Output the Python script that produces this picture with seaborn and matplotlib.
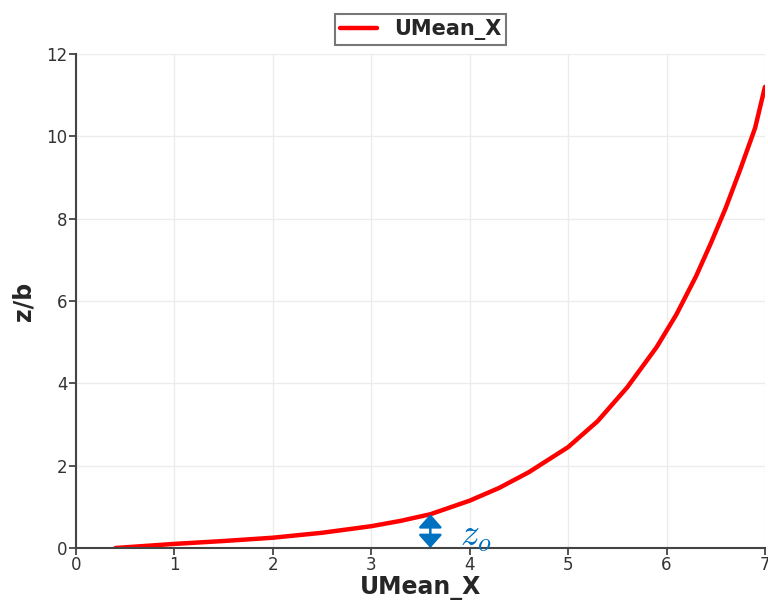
import pandas as pd
import matplotlib.pyplot as plt
import seaborn as sns

# velocity profile
umean_x = [0.4, 0.7, 1.0, 1.5, 2.0, 2.5, 3.0, 3.3, 3.6, 4.0, 4.3, 4.6, 5.0, 5.3, 5.6, 5.9,
           6.1, 6.3, 6.45, 6.6, 6.75, 6.9, 7.0]
z_over_b = [0.0, 0.05, 0.1, 0.17, 0.25, 0.37, 0.53, 0.66, 0.82, 1.15, 1.46, 1.84, 2.45, 3.08,
            3.9, 4.88, 5.67, 6.6, 7.4, 8.25, 9.2, 10.2, 11.2]
x_ticks = [0, 1, 2, 3, 4, 5, 6, 7]
y_ticks = [0, 2, 4, 6, 8, 10, 12]
z0_u = 3.6
z0_top = 0.82

df = pd.DataFrame({"UMean_X": umean_x, "z/b": z_over_b})

sns.set_style("white")
plt.rcParams['font.family'] = ['DejaVu Sans']
plt.rcParams['mathtext.fontset'] = 'cm'

fig = plt.figure(figsize=(7.68, 6.04), dpi=100)
ax = fig.add_axes([0.099, 0.0927, 0.897, 0.818])

sns.lineplot(data=df, x="UMean_X", y="z/b", color="red", linewidth=3.2,
             label="UMean_X", ax=ax, sort=False)

ax.set_xlim(0, 7)
ax.set_ylim(0, 12)
ax.set_xticks(x_ticks)
ax.set_yticks(y_ticks)
ax.grid(True, color="#ececec", linewidth=1)
ax.set_axisbelow(True)

for s in ["top", "right"]:
    ax.spines[s].set_visible(False)
for s in ["left", "bottom"]:
    ax.spines[s].set_color("#444444")
    ax.spines[s].set_linewidth(1.5)

ax.tick_params(axis="both", direction="out", length=5, width=1.3, color="#444444",
               labelsize=12, labelcolor="#333333", pad=1, bottom=True, left=True)

ax.set_xlabel("UMean_X", fontsize=17, fontweight="bold", labelpad=1)
ax.set_ylabel("z/b", fontsize=17, fontweight="bold", labelpad=8)

# z0 marker
ax.annotate("", xy=(z0_u, 0), xytext=(z0_u, z0_top),
            arrowprops=dict(arrowstyle="<|-|>,head_length=0.45,head_width=0.4",
                            color="#0070c0", lw=1.8, mutation_scale=18,
                            shrinkA=0, shrinkB=0))
ax.text(z0_u + 0.3, 0.28, r"$z_o$", color="#0070c0", fontsize=27,
        ha="left", va="center")

leg = ax.legend(loc="lower center", bbox_to_anchor=(0.5, 1.018), frameon=True,
                fancybox=False, prop={"weight": "bold", "size": 15},
                handlelength=1.8, borderpad=0.25, borderaxespad=0)
leg.get_frame().set_edgecolor("#555555")
leg.get_frame().set_linewidth(1.5)

fig.savefig("out.png", dpi=100)
